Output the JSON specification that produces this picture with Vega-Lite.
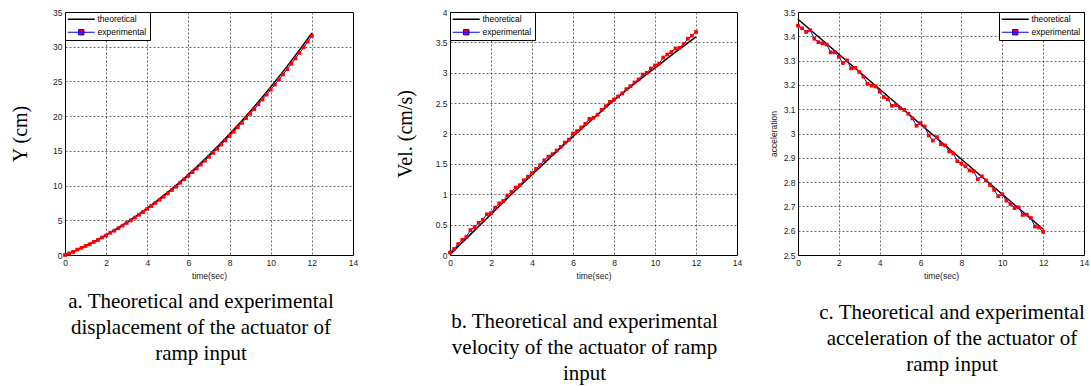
{
"$schema": "https://vega.github.io/schema/vega-lite/v6.json",
"background": "white",
"padding": {"left": 10, "top": 7, "right": 0, "bottom": 0},
"datasets": {
"a": [
{"t":0,"v":0,"s":"theoretical"},{"t":0.5,"v":0.63,"s":"theoretical"},{"t":1,"v":1.32,"s":"theoretical"},{"t":1.5,"v":2.07,"s":"theoretical"},{"t":2,"v":2.89,"s":"theoretical"},{"t":2.5,"v":3.76,"s":"theoretical"},{"t":3,"v":4.7,"s":"theoretical"},{"t":3.5,"v":5.69,"s":"theoretical"},{"t":4,"v":6.75,"s":"theoretical"},{"t":4.5,"v":7.87,"s":"theoretical"},{"t":5,"v":9.05,"s":"theoretical"},{"t":5.5,"v":10.29,"s":"theoretical"},{"t":6,"v":11.59,"s":"theoretical"},{"t":6.5,"v":12.95,"s":"theoretical"},{"t":7,"v":14.38,"s":"theoretical"},{"t":7.5,"v":15.86,"s":"theoretical"},{"t":8,"v":17.41,"s":"theoretical"},{"t":8.5,"v":19.01,"s":"theoretical"},{"t":9,"v":20.68,"s":"theoretical"},{"t":9.5,"v":22.41,"s":"theoretical"},{"t":10,"v":24.2,"s":"theoretical"},{"t":10.5,"v":26.05,"s":"theoretical"},{"t":11,"v":27.96,"s":"theoretical"},{"t":11.5,"v":29.93,"s":"theoretical"},{"t":12,"v":31.97,"s":"theoretical"},
{"t":0,"v":0,"s":"experimental"},{"t":0.2,"v":0.22,"s":"experimental"},{"t":0.4,"v":0.45,"s":"experimental"},{"t":0.6,"v":0.78,"s":"experimental"},{"t":0.8,"v":1.03,"s":"experimental"},{"t":1,"v":1.3,"s":"experimental"},{"t":1.2,"v":1.55,"s":"experimental"},{"t":1.4,"v":1.88,"s":"experimental"},{"t":1.6,"v":2.16,"s":"experimental"},{"t":1.8,"v":2.52,"s":"experimental"},{"t":2,"v":2.8,"s":"experimental"},{"t":2.2,"v":3.2,"s":"experimental"},{"t":2.4,"v":3.5,"s":"experimental"},{"t":2.6,"v":3.86,"s":"experimental"},{"t":2.8,"v":4.22,"s":"experimental"},{"t":3,"v":4.62,"s":"experimental"},{"t":3.2,"v":4.98,"s":"experimental"},{"t":3.4,"v":5.38,"s":"experimental"},{"t":3.6,"v":5.8,"s":"experimental"},{"t":3.8,"v":6.2,"s":"experimental"},{"t":4,"v":6.64,"s":"experimental"},{"t":4.2,"v":7.06,"s":"experimental"},{"t":4.4,"v":7.5,"s":"experimental"},{"t":4.6,"v":7.96,"s":"experimental"},{"t":4.8,"v":8.4,"s":"experimental"},{"t":5,"v":8.88,"s":"experimental"},{"t":5.2,"v":9.36,"s":"experimental"},{"t":5.4,"v":9.84,"s":"experimental"},{"t":5.6,"v":10.4,"s":"experimental"},{"t":5.8,"v":10.9,"s":"experimental"},{"t":6,"v":11.4,"s":"experimental"},{"t":6.2,"v":11.94,"s":"experimental"},{"t":6.4,"v":12.46,"s":"experimental"},{"t":6.6,"v":13.02,"s":"experimental"},{"t":6.8,"v":13.58,"s":"experimental"},{"t":7,"v":14.14,"s":"experimental"},{"t":7.2,"v":14.72,"s":"experimental"},{"t":7.4,"v":15.3,"s":"experimental"},{"t":7.6,"v":15.92,"s":"experimental"},{"t":7.8,"v":16.5,"s":"experimental"},{"t":8,"v":17.14,"s":"experimental"},{"t":8.2,"v":17.76,"s":"experimental"},{"t":8.4,"v":18.4,"s":"experimental"},{"t":8.6,"v":19.04,"s":"experimental"},{"t":8.8,"v":19.7,"s":"experimental"},{"t":9,"v":20.34,"s":"experimental"},{"t":9.2,"v":21.02,"s":"experimental"},{"t":9.4,"v":21.7,"s":"experimental"},{"t":9.6,"v":22.4,"s":"experimental"},{"t":9.8,"v":23.1,"s":"experimental"},{"t":10,"v":23.82,"s":"experimental"},{"t":10.2,"v":24.54,"s":"experimental"},{"t":10.4,"v":25.28,"s":"experimental"},{"t":10.6,"v":26.02,"s":"experimental"},{"t":10.8,"v":26.78,"s":"experimental"},{"t":11,"v":27.54,"s":"experimental"},{"t":11.2,"v":28.32,"s":"experimental"},{"t":11.4,"v":29.1,"s":"experimental"},{"t":11.6,"v":29.9,"s":"experimental"},{"t":11.8,"v":30.72,"s":"experimental"},{"t":12,"v":31.55,"s":"experimental"}
],
"b": [
{"t":0,"v":0.01,"s":"theoretical"},{"t":1,"v":0.34,"s":"theoretical"},{"t":2,"v":0.67,"s":"theoretical"},{"t":3,"v":1.0,"s":"theoretical"},{"t":4,"v":1.32,"s":"theoretical"},{"t":5,"v":1.64,"s":"theoretical"},{"t":6,"v":1.95,"s":"theoretical"},{"t":7,"v":2.25,"s":"theoretical"},{"t":8,"v":2.55,"s":"theoretical"},{"t":9,"v":2.82,"s":"theoretical"},{"t":10,"v":3.08,"s":"theoretical"},{"t":11,"v":3.34,"s":"theoretical"},{"t":12,"v":3.59,"s":"theoretical"},
{"t":0,"v":0.04,"s":"experimental"},{"t":0.2,"v":0.1,"s":"experimental"},{"t":0.4,"v":0.18,"s":"experimental"},{"t":0.6,"v":0.25,"s":"experimental"},{"t":0.8,"v":0.3,"s":"experimental"},{"t":1,"v":0.41,"s":"experimental"},{"t":1.2,"v":0.46,"s":"experimental"},{"t":1.4,"v":0.53,"s":"experimental"},{"t":1.6,"v":0.58,"s":"experimental"},{"t":1.8,"v":0.67,"s":"experimental"},{"t":2,"v":0.69,"s":"experimental"},{"t":2.2,"v":0.78,"s":"experimental"},{"t":2.4,"v":0.85,"s":"experimental"},{"t":2.6,"v":0.89,"s":"experimental"},{"t":2.8,"v":0.98,"s":"experimental"},{"t":3,"v":1.04,"s":"experimental"},{"t":3.2,"v":1.11,"s":"experimental"},{"t":3.4,"v":1.15,"s":"experimental"},{"t":3.6,"v":1.23,"s":"experimental"},{"t":3.8,"v":1.29,"s":"experimental"},{"t":4,"v":1.35,"s":"experimental"},{"t":4.2,"v":1.42,"s":"experimental"},{"t":4.4,"v":1.48,"s":"experimental"},{"t":4.6,"v":1.56,"s":"experimental"},{"t":4.8,"v":1.62,"s":"experimental"},{"t":5,"v":1.66,"s":"experimental"},{"t":5.2,"v":1.72,"s":"experimental"},{"t":5.4,"v":1.78,"s":"experimental"},{"t":5.6,"v":1.85,"s":"experimental"},{"t":5.8,"v":1.9,"s":"experimental"},{"t":6,"v":2.0,"s":"experimental"},{"t":6.2,"v":2.04,"s":"experimental"},{"t":6.4,"v":2.1,"s":"experimental"},{"t":6.6,"v":2.16,"s":"experimental"},{"t":6.8,"v":2.24,"s":"experimental"},{"t":7,"v":2.26,"s":"experimental"},{"t":7.2,"v":2.31,"s":"experimental"},{"t":7.4,"v":2.39,"s":"experimental"},{"t":7.6,"v":2.45,"s":"experimental"},{"t":7.8,"v":2.52,"s":"experimental"},{"t":8,"v":2.56,"s":"experimental"},{"t":8.2,"v":2.61,"s":"experimental"},{"t":8.4,"v":2.66,"s":"experimental"},{"t":8.6,"v":2.73,"s":"experimental"},{"t":8.8,"v":2.78,"s":"experimental"},{"t":9,"v":2.84,"s":"experimental"},{"t":9.2,"v":2.89,"s":"experimental"},{"t":9.4,"v":2.97,"s":"experimental"},{"t":9.6,"v":3.0,"s":"experimental"},{"t":9.8,"v":3.07,"s":"experimental"},{"t":10,"v":3.12,"s":"experimental"},{"t":10.2,"v":3.15,"s":"experimental"},{"t":10.4,"v":3.25,"s":"experimental"},{"t":10.6,"v":3.3,"s":"experimental"},{"t":10.8,"v":3.34,"s":"experimental"},{"t":11,"v":3.4,"s":"experimental"},{"t":11.2,"v":3.41,"s":"experimental"},{"t":11.4,"v":3.47,"s":"experimental"},{"t":11.6,"v":3.56,"s":"experimental"},{"t":11.8,"v":3.61,"s":"experimental"},{"t":12,"v":3.67,"s":"experimental"}
],
"c": [
{"t":0,"v":3.47,"s":"theoretical"},{"t":1,"v":3.398,"s":"theoretical"},{"t":2,"v":3.326,"s":"theoretical"},{"t":3,"v":3.254,"s":"theoretical"},{"t":4,"v":3.182,"s":"theoretical"},{"t":5,"v":3.11,"s":"theoretical"},{"t":6,"v":3.038,"s":"theoretical"},{"t":7,"v":2.966,"s":"theoretical"},{"t":8,"v":2.894,"s":"theoretical"},{"t":9,"v":2.822,"s":"theoretical"},{"t":10,"v":2.75,"s":"theoretical"},{"t":11,"v":2.678,"s":"theoretical"},{"t":12,"v":2.606,"s":"theoretical"},
{"t":0,"v":3.444,"s":"experimental"},{"t":0.2,"v":3.433,"s":"experimental"},{"t":0.4,"v":3.418,"s":"experimental"},{"t":0.6,"v":3.425,"s":"experimental"},{"t":0.8,"v":3.39,"s":"experimental"},{"t":1,"v":3.376,"s":"experimental"},{"t":1.2,"v":3.371,"s":"experimental"},{"t":1.4,"v":3.366,"s":"experimental"},{"t":1.6,"v":3.334,"s":"experimental"},{"t":1.8,"v":3.334,"s":"experimental"},{"t":2,"v":3.315,"s":"experimental"},{"t":2.2,"v":3.29,"s":"experimental"},{"t":2.4,"v":3.301,"s":"experimental"},{"t":2.6,"v":3.268,"s":"experimental"},{"t":2.8,"v":3.27,"s":"experimental"},{"t":3,"v":3.253,"s":"experimental"},{"t":3.2,"v":3.234,"s":"experimental"},{"t":3.4,"v":3.205,"s":"experimental"},{"t":3.6,"v":3.197,"s":"experimental"},{"t":3.8,"v":3.194,"s":"experimental"},{"t":4,"v":3.172,"s":"experimental"},{"t":4.2,"v":3.15,"s":"experimental"},{"t":4.4,"v":3.141,"s":"experimental"},{"t":4.6,"v":3.114,"s":"experimental"},{"t":4.8,"v":3.117,"s":"experimental"},{"t":5,"v":3.104,"s":"experimental"},{"t":5.2,"v":3.097,"s":"experimental"},{"t":5.4,"v":3.081,"s":"experimental"},{"t":5.6,"v":3.062,"s":"experimental"},{"t":5.8,"v":3.032,"s":"experimental"},{"t":6,"v":3.043,"s":"experimental"},{"t":6.2,"v":3.029,"s":"experimental"},{"t":6.4,"v":2.992,"s":"experimental"},{"t":6.6,"v":2.971,"s":"experimental"},{"t":6.8,"v":2.985,"s":"experimental"},{"t":7,"v":2.956,"s":"experimental"},{"t":7.2,"v":2.951,"s":"experimental"},{"t":7.4,"v":2.926,"s":"experimental"},{"t":7.6,"v":2.918,"s":"experimental"},{"t":7.8,"v":2.886,"s":"experimental"},{"t":8,"v":2.876,"s":"experimental"},{"t":8.2,"v":2.865,"s":"experimental"},{"t":8.4,"v":2.848,"s":"experimental"},{"t":8.6,"v":2.844,"s":"experimental"},{"t":8.8,"v":2.812,"s":"experimental"},{"t":9,"v":2.824,"s":"experimental"},{"t":9.2,"v":2.807,"s":"experimental"},{"t":9.4,"v":2.788,"s":"experimental"},{"t":9.6,"v":2.768,"s":"experimental"},{"t":9.8,"v":2.742,"s":"experimental"},{"t":10,"v":2.75,"s":"experimental"},{"t":10.2,"v":2.724,"s":"experimental"},{"t":10.4,"v":2.71,"s":"experimental"},{"t":10.6,"v":2.693,"s":"experimental"},{"t":10.8,"v":2.696,"s":"experimental"},{"t":11,"v":2.665,"s":"experimental"},{"t":11.2,"v":2.666,"s":"experimental"},{"t":11.4,"v":2.652,"s":"experimental"},{"t":11.6,"v":2.617,"s":"experimental"},{"t":11.8,"v":2.613,"s":"experimental"},{"t":12,"v":2.595,"s":"experimental"}
]
},
"config": {
"view": {"stroke": "black", "strokeWidth": 1},
"axis": {"domain": false, "ticks": false, "grid": true, "gridColor": "#000", "gridDash": [2, 2], "gridWidth": 0.7, "gridOpacity": 0.85, "labelFont": "Liberation Sans", "labelFontSize": 8.5, "labelColor": "#222", "labelPadding": 3, "labelFlush": false, "labelOverlap": false, "titleFont": "Liberation Sans", "titleFontSize": 8.5, "titleFontWeight": "normal", "titleColor": "#222"},
"legend": {"labelFont": "Liberation Sans"},
"title": {"font": "Liberation Serif", "fontSize": 21, "fontWeight": "normal", "lineHeight": 26, "color": "black"},
"style": {"group-title": {"font": "Liberation Serif", "fontSize": 21, "fontWeight": "normal"}}
},
"bounds": "flush",
"spacing": 97,
"resolve": {"scale": {"x": "independent", "y": "independent", "color": "independent"}, "legend": {"color": "independent"}},
"hconcat": [
{
"width": 288, "height": 243,
"data": {"name": "a"},
"title": {"text": ["a. Theoretical and experimental", "displacement of the actuator of", "ramp input"], "font": "Liberation Serif", "fontSize": 21, "fontWeight": "normal", "lineHeight": 26, "color": "black", "orient": "bottom", "frame": "group", "anchor": "middle", "dx": -8, "offset": 11},
"encoding": {
"x": {"field": "t", "type": "quantitative", "scale": {"domain": [0, 14], "nice": false}, "axis": {"title": "time(sec)", "values": [0, 2, 4, 6, 8, 10, 12, 14], "titlePadding": 5}},
"y": {"field": "v", "type": "quantitative", "scale": {"domain": [0, 35], "nice": false}, "axis": {"title": "Y (cm)", "values": [0, 5, 10, 15, 20, 25, 30, 35], "titleFont": "Liberation Serif", "titleFontSize": 20, "titleColor": "black", "titlePadding": 22}},
"color": {"field": "s", "type": "nominal", "scale": {"domain": ["theoretical", "experimental"], "range": ["black", "blue"]},
"legend": {"title": null, "orient": "top-left", "offset": 0, "fillColor": "white", "strokeColor": "black", "padding": 3, "rowPadding": 3, "labelFont": "Liberation Sans", "labelFontSize": 8.5, "labelColor": "black", "symbolType": "M-3,0H3", "symbolSize": 81, "symbolStrokeWidth": 1.5, "symbolOffset": 9, "labelOffset": 12, "encode": {"symbols": {"update": {"shape": {"signal": "datum.value === 'experimental' ? 'M-3,0H3M-0.6,-0.6H0.6V0.6H-0.6Z' : 'M-3,0H3'"}, "fill": {"signal": "datum.value === 'experimental' ? 'red' : 'transparent'"}, "strokeWidth": {"signal": "datum.value === 'experimental' ? 1 : 1.5"}}}}}}
},
"layer": [
{"transform": [{"filter": "datum.s === 'theoretical'"}], "mark": {"type": "line", "strokeWidth": 1.5}},
{"transform": [{"filter": "datum.s === 'experimental'"}], "mark": {"type": "line", "strokeWidth": 1}},
{"transform": [{"filter": "datum.s === 'experimental'"}], "mark": {"type": "point", "shape": "square", "filled": true, "size": 14, "opacity": 1}, "encoding": {"color": {"value": "red"}}}
]
},
{
"bounds": "flush",
"spacing": 61,
"resolve": {"scale": {"x": "independent", "y": "independent", "color": "independent"}, "legend": {"color": "independent"}},
"hconcat": [
{
"width": 287, "height": 243,
"data": {"name": "b"},
"title": {"text": ["b. Theoretical and experimental", "velocity of the actuator of ramp", "input"], "font": "Liberation Serif", "fontSize": 21, "fontWeight": "normal", "lineHeight": 26, "color": "black", "orient": "bottom", "frame": "group", "anchor": "middle", "dx": -9, "offset": 31},
"encoding": {
"x": {"field": "t", "type": "quantitative", "scale": {"domain": [0, 14], "nice": false}, "axis": {"title": "time(sec)", "values": [0, 2, 4, 6, 8, 10, 12, 14], "titlePadding": 5}},
"y": {"field": "v", "type": "quantitative", "scale": {"domain": [0, 4], "nice": false}, "axis": {"title": "Vel. (cm/s)", "format": ".1~f", "values": [0, 0.5, 1, 1.5, 2, 2.5, 3, 3.5, 4], "titleFont": "Liberation Serif", "titleFontSize": 20, "titleColor": "black", "titlePadding": 20}},
"color": {"field": "s", "type": "nominal", "scale": {"domain": ["theoretical", "experimental"], "range": ["black", "blue"]},
"legend": {"title": null, "orient": "top-left", "offset": 0, "fillColor": "white", "strokeColor": "black", "padding": 3, "rowPadding": 3, "labelFont": "Liberation Sans", "labelFontSize": 8.5, "labelColor": "black", "symbolType": "M-3,0H3", "symbolSize": 81, "symbolStrokeWidth": 1.5, "symbolOffset": 9, "labelOffset": 12, "encode": {"symbols": {"update": {"shape": {"signal": "datum.value === 'experimental' ? 'M-3,0H3M-0.6,-0.6H0.6V0.6H-0.6Z' : 'M-3,0H3'"}, "fill": {"signal": "datum.value === 'experimental' ? 'red' : 'transparent'"}, "strokeWidth": {"signal": "datum.value === 'experimental' ? 1 : 1.5"}}}}}}
},
"layer": [
{"transform": [{"filter": "datum.s === 'theoretical'"}], "mark": {"type": "line", "strokeWidth": 1.5}},
{"transform": [{"filter": "datum.s === 'experimental'"}], "mark": {"type": "line", "strokeWidth": 1}},
{"transform": [{"filter": "datum.s === 'experimental'"}], "mark": {"type": "point", "shape": "square", "filled": true, "size": 14, "opacity": 1}, "encoding": {"color": {"value": "red"}}}
]
},
{
"width": 286, "height": 243,
"data": {"name": "c"},
"title": {"text": ["c. Theoretical and experimental", "acceleration of the actuator of", "ramp input"], "font": "Liberation Serif", "fontSize": 21, "fontWeight": "normal", "lineHeight": 26, "color": "black", "orient": "bottom", "frame": "group", "anchor": "middle", "dx": 11, "offset": 22},
"encoding": {
"x": {"field": "t", "type": "quantitative", "scale": {"domain": [0, 14], "nice": false}, "axis": {"title": "time(sec)", "values": [0, 2, 4, 6, 8, 10, 12, 14], "titlePadding": 5}},
"y": {"field": "v", "type": "quantitative", "scale": {"domain": [2.5, 3.5], "nice": false, "zero": false}, "axis": {"title": "acceleration", "format": ".1~f", "values": [2.5, 2.6, 2.7, 2.8, 2.9, 3, 3.1, 3.2, 3.3, 3.4, 3.5], "titlePadding": 5}},
"color": {"field": "s", "type": "nominal", "scale": {"domain": ["theoretical", "experimental"], "range": ["black", "blue"]},
"legend": {"title": null, "orient": "top-right", "offset": 0, "fillColor": "white", "strokeColor": "black", "padding": 3, "rowPadding": 3, "labelFont": "Liberation Sans", "labelFontSize": 8.5, "labelColor": "black", "symbolType": "M-3,0H3", "symbolSize": 81, "symbolStrokeWidth": 1.5, "symbolOffset": 9, "labelOffset": 12, "encode": {"symbols": {"update": {"shape": {"signal": "datum.value === 'experimental' ? 'M-3,0H3M-0.6,-0.6H0.6V0.6H-0.6Z' : 'M-3,0H3'"}, "fill": {"signal": "datum.value === 'experimental' ? 'red' : 'transparent'"}, "strokeWidth": {"signal": "datum.value === 'experimental' ? 1 : 1.5"}}}}}}
},
"layer": [
{"transform": [{"filter": "datum.s === 'theoretical'"}], "mark": {"type": "line", "strokeWidth": 1.5}},
{"transform": [{"filter": "datum.s === 'experimental'"}], "mark": {"type": "line", "strokeWidth": 1}},
{"transform": [{"filter": "datum.s === 'experimental'"}], "mark": {"type": "point", "shape": "square", "filled": true, "size": 14, "opacity": 1}, "encoding": {"color": {"value": "red"}}}
]
}
]
}
]
}
